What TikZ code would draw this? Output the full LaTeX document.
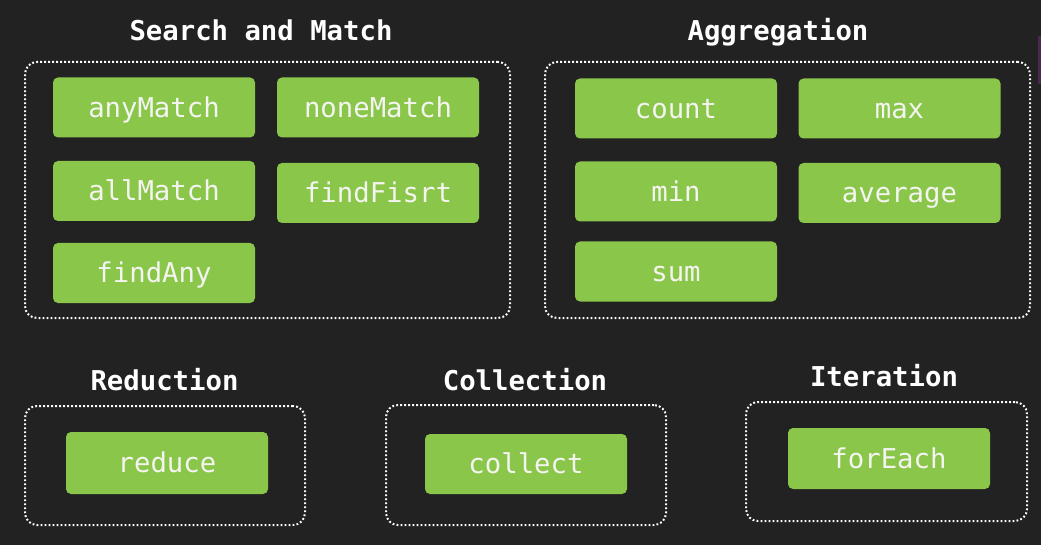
\documentclass[tikz,border=0pt]{standalone}
\usepackage{fontspec}
\setmonofont{DejaVu Sans Mono}
\usetikzlibrary{positioning}
\definecolor{bgdark}{HTML}{222222}
\definecolor{opgreen}{HTML}{8AC64A}
\definecolor{optext}{HTML}{F4F4F0}
\definecolor{edgepurple}{HTML}{4A2A4C}
\tikzset{
  op/.style={fill=opgreen, rounded corners=5pt, minimum width=202pt, minimum height=60pt,
    inner sep=0pt, text=optext, font=\ttfamily\fontsize{27.3}{27.3}\selectfont,
    text height=19.5pt, text depth=0pt},
  group/.style={draw=white, line width=2pt, dash pattern=on 1.8pt off 2.2pt,
    rounded corners=12pt, inner sep=0pt},
  heading/.style={text=white, inner sep=0pt, font=\ttfamily\bfseries\fontsize{27.3}{27.3}\selectfont,
    text height=20pt, text depth=0pt}
}
\begin{document}
\begin{tikzpicture}[x=1pt,y=-1pt]
  % canvas
  \fill[bgdark] (0,0) rectangle (1041,545);
  \useasboundingbox (0,0) rectangle (1041,545);
  \fill[edgepurple] (1038,36) rectangle (1041,84);

  % group frames
  \node[group, minimum width=485pt, minimum height=256pt] (gsearch) at (267.5,190) {};
  \node[group, minimum width=485pt, minimum height=256pt] (gagg) at (787.5,190) {};
  \node[group, minimum width=280pt, minimum height=119pt] (gred) at (165,465.5) {};
  \node[group, minimum width=280pt, minimum height=120pt] (gcol) at (526,465) {};
  \node[group, minimum width=281pt, minimum height=119pt] (giter) at (886.5,461.5) {};

  % headings
  \node[heading] (tsearch) at (261,31) {Search and Match};
  \node[heading] (tagg) at (778,31) {Aggregation};
  \node[heading] (tred) at (164.5,380) {Reduction};
  \node[heading] (tcol) at (525,380) {Collection};
  \node[heading] (titer) at (884,376) {Iteration};

  % search and match operations
  \node[op] (anymatch) at (154,107.5) {anyMatch};
  \node[op] (nonematch) at (378,107.5) {noneMatch};
  \node[op] (allmatch) at (154,191) {allMatch};
  \node[op] (findfirst) at (378,193) {findFisrt};
  \node[op] (findany) at (154,273) {findAny};

  % aggregation operations
  \node[op] (count) at (676,108.5) {count};
  \node[op] (max) at (899.5,108.5) {max};
  \node[op] (min) at (676,191.5) {min};
  \node[op] (average) at (899.5,193) {average};
  \node[op] (sum) at (676,271.5) {sum};

  % single-operation groups
  \node[op, minimum height=62pt] (reduce) at (167,463) {reduce};
  \node[op] (collect) at (526,464) {collect};
  \node[op, minimum height=61pt] (foreach) at (889,458.5) {forEach};
\end{tikzpicture}
\end{document}
